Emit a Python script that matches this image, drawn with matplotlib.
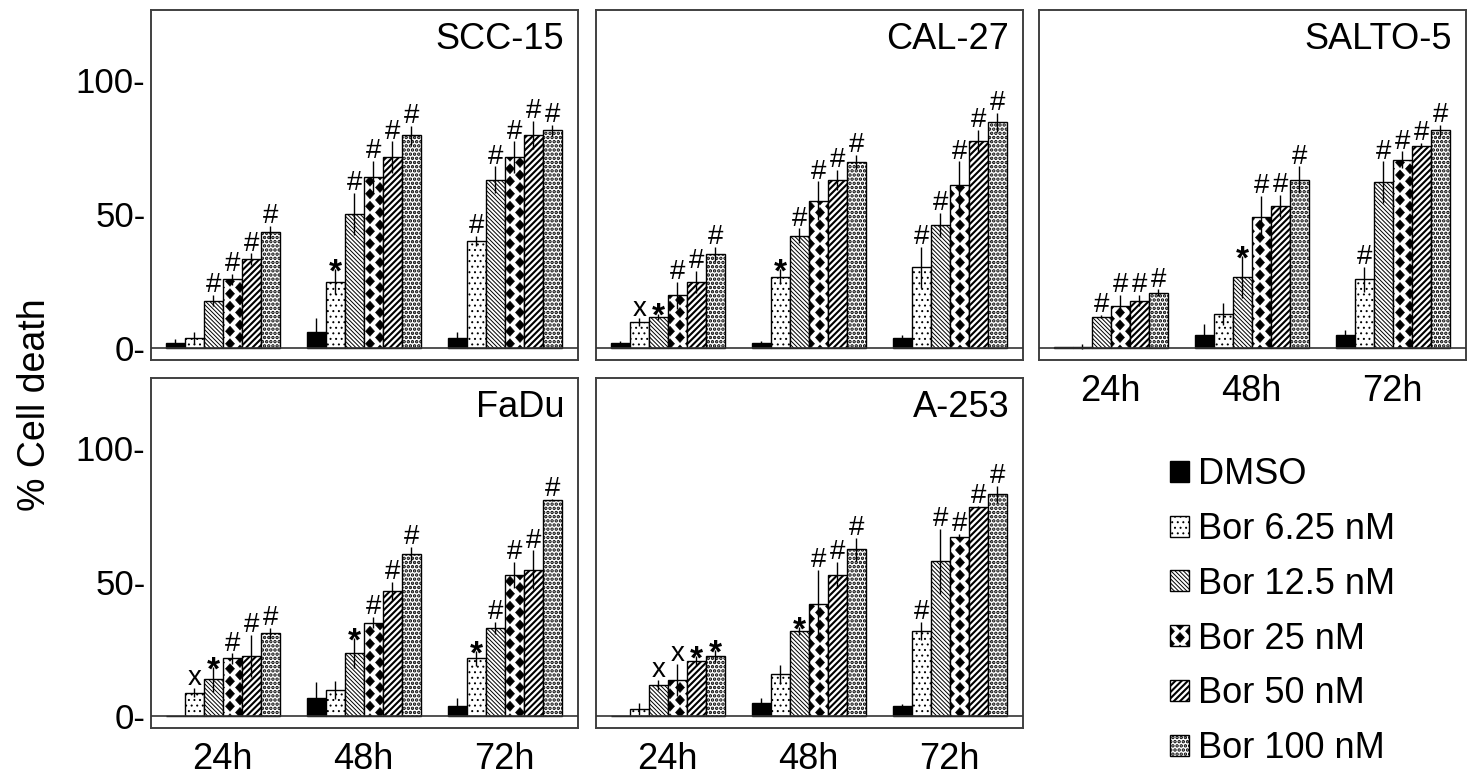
import numpy as np
import matplotlib
matplotlib.use('Agg')
import matplotlib.pyplot as plt
from matplotlib import hatch as mhatch
from matplotlib.path import Path
from matplotlib.patches import Patch

plt.rcParams['font.family'] = ['Liberation Sans', 'DejaVu Sans']

times = ['24h', '48h', '72h']
treatments = ['DMSO', 'Bor 6.25 nM', 'Bor 12.5 nM', 'Bor 25 nM', 'Bor 50 nM', 'Bor 100 nM']
panels = ['SCC-15', 'CAL-27', 'SALTO-5', 'FaDu', 'A-253']

# % cell death, one row per treatment, columns 24h/48h/72h
scc15_mean = [[2.1, 6.0, 4.0], [4.0, 24.9, 40.0], [17.8, 50.0, 62.8],
              [25.7, 63.7, 71.3], [33.2, 71.3, 79.4], [43.2, 79.4, 81.2]]
scc15_err = [[1.3, 5.2, 2.2], [2.2, 4.6, 1.9], [2.1, 7.8, 5.0],
             [2.2, 6.0, 5.8], [2.2, 5.8, 5.2], [2.5, 3.6, 2.1]]
scc15_sig = [['', '', ''], ['', '*', '#'], ['#', '#', '#'],
             ['#', '#', '#'], ['#', '#', '#'], ['#', '#', '#']]

cal27_mean = [[2.1, 2.1, 4.0], [9.7, 26.7, 30.2], [11.8, 42.0, 46.0],
              [19.8, 55.0, 60.9], [24.8, 62.8, 77.1], [35.2, 69.4, 84.2]]
cal27_err = [[0.8, 0.5, 1.0], [1.5, 2.7, 7.7], [1.2, 2.7, 4.4],
             [5.1, 7.2, 8.7], [4.2, 3.7, 4.4], [2.7, 2.7, 3.5]]
cal27_sig = [['', '', ''], ['x', '*', '#'], ['*', '#', '#'],
             ['#', '#', '#'], ['#', '#', '#'], ['#', '#', '#']]

salto5_mean = [[0.4, 5.0, 5.0], [0.7, 12.8, 25.7], [11.8, 26.7, 61.9],
               [15.9, 49.0, 70.3], [17.8, 53.1, 75.5], [20.8, 62.8, 81.2]]
salto5_err = [[0.2, 4.1, 1.9], [0.8, 4.0, 4.7], [0.6, 7.8, 7.7],
              [4.0, 7.8, 3.1], [2.1, 4.1, 1.0], [1.2, 5.0, 2.1]]
salto5_sig = [['', '', ''], ['', '', '#'], ['#', '*', '#'],
              ['#', '#', '#'], ['#', '#', '#'], ['#', '#', '#']]

fadu_mean = [[0.2, 6.8, 4.0], [8.9, 9.9, 21.6], [13.8, 23.5, 33.0],
             [21.6, 34.9, 52.6], [22.5, 46.7, 54.6], [30.9, 60.5, 80.6]]
fadu_err = [[0.1, 5.9, 2.8], [1.6, 3.3, 2.8], [4.7, 5.6, 2.2],
            [1.9, 2.1, 4.8], [7.8, 3.3, 7.2], [2.2, 2.7, 0.5]]
fadu_sig = [['', '', ''], ['x', '', '*'], ['*', '*', '#'],
            ['#', '#', '#'], ['#', '#', '#'], ['#', '#', '#']]

a253_mean = [[0.2, 4.9, 4.0], [2.8, 15.7, 31.9], [11.7, 31.9, 57.7],
             [13.7, 41.7, 66.9], [20.6, 52.6, 77.8], [22.6, 62.3, 82.7]]
a253_err = [[0.1, 1.9, 0.5], [2.1, 3.5, 3.3], [1.9, 1.5, 12.1],
            [6.0, 12.8, 1.0], [1.9, 4.8, 0.6], [2.3, 4.3, 3.1]]
a253_sig = [['', '', ''], ['', '', '#'], ['x', '*', '#'],
            ['x', '#', '#'], ['*', '#', '#'], ['*', '#', '#']]


#### custom hatches: thin "\" lines, wide "/" stripes, staggered diamonds
class BackLines(mhatch.HatchPatternBase):
    def __init__(self, hatch, density):
        self.n = hatch.count('\\') * 6
        self.num_vertices = 2 * (2 * self.n + 1) if self.n else 0

    def set_vertices_and_codes(self, vertices, codes):
        k = np.arange(-self.n, self.n + 1) / self.n
        vertices[0::2, 0] = k
        vertices[0::2, 1] = 1.0
        vertices[1::2, 0] = k + 1.0
        vertices[1::2, 1] = 0.0
        codes[0::2] = Path.MOVETO
        codes[1::2] = Path.LINETO


class WideSlash(mhatch.HatchPatternBase):
    def __init__(self, hatch, density):
        self.n = hatch.count('|') * 8
        self.num_vertices = 2 * (2 * self.n + 1) if self.n else 0

    def set_vertices_and_codes(self, vertices, codes):
        k = np.arange(-self.n, self.n + 1) / self.n
        vertices[0::2, 0] = k
        vertices[0::2, 1] = 0.0
        vertices[1::2, 0] = k + 1.0
        vertices[1::2, 1] = 1.0
        codes[0::2] = Path.MOVETO
        codes[1::2] = Path.LINETO


class Diamonds(mhatch.HatchPatternBase):
    def __init__(self, hatch, density):
        c = hatch.count('O')
        self.nx, self.ny = 5 * c, 8 * c
        self.centres = []
        if c:
            for j in range(2 * self.ny + 1):
                y = j / (2 * self.ny)
                if j % 2 == 0:
                    xs = np.arange(self.nx + 1) / self.nx
                else:
                    xs = (np.arange(self.nx) + 0.5) / self.nx
                self.centres += [(x, y) for x in xs]
        self.num_vertices = 5 * len(self.centres)

    def set_vertices_and_codes(self, vertices, codes):
        hw, hh = 0.045, 0.05
        shape = np.array([[0, hh], [hw, 0], [0, -hh], [-hw, 0], [0, hh]])
        for i, (x, y) in enumerate(self.centres):
            vertices[5 * i:5 * i + 5] = shape + [x, y]
            codes[5 * i:5 * i + 5] = [Path.MOVETO, Path.LINETO, Path.LINETO,
                                      Path.LINETO, Path.CLOSEPOLY]


mhatch._hatch_types = [mhatch.HorizontalHatch, WideSlash, mhatch.NorthEastHatch,
                       BackLines, mhatch.SmallCircles, Diamonds,
                       mhatch.SmallFilledCircles, mhatch.Stars]

faces = ['black', 'white', 'white', 'white', 'white', 'white']
hatches = [None, '...', '\\\\\\\\', 'O', '||', '....']
hatch_lw = [0.5, 0.7, 0.7, 0.4, 1.5, 1.7]


def set_hlw(patch, lw):
    if hasattr(patch, 'set_hatch_linewidth'):
        patch.set_hatch_linewidth(lw)


fig = plt.figure(figsize=(14.75, 7.75), dpi=100)
W, H = 1475, 775
boxes = [(151, 10), (596, 10), (1039, 10), (151, 378), (596, 378)]
data = [(scc15_mean, scc15_err, scc15_sig), (cal27_mean, cal27_err, cal27_sig),
        (salto5_mean, salto5_err, salto5_sig), (fadu_mean, fadu_err, fadu_sig),
        (a253_mean, a253_err, a253_sig)]

x = np.arange(len(times))
bw = 0.135
for k, (name, (px, py), (mean, err, sig)) in enumerate(zip(panels, boxes, data)):
    ax = fig.add_axes([px / W, 1 - (py + 350) / H, 427 / W, 350 / H])
    for i in range(len(treatments)):
        xs = x + (i - 2.5) * bw
        bars = ax.bar(xs, mean[i], bw, color=faces[i], edgecolor='black',
                      linewidth=1.0, hatch=hatches[i], zorder=2)
        for b in bars:
            set_hlw(b, hatch_lw[i])
        ax.errorbar(xs, mean[i], yerr=err[i], fmt='none', ecolor='black',
                    elinewidth=1.0, capsize=0, zorder=3)
        for xi, m, e, s in zip(xs, mean[i], err[i], sig[i]):
            if s == '*':
                ax.annotate(s, (xi, m + e), xytext=(0, -9), textcoords='offset points',
                            ha='center', va='baseline', fontsize=24, fontweight='bold')
            elif s:
                ax.annotate(s, (xi, m + e), xytext=(0, 2), textcoords='offset points',
                            ha='center', va='baseline', fontsize=20)
    ax.axhline(0, color='0.2', lw=1.2, zorder=4)
    ax.set_xlim(-0.51, 2.52)
    ax.set_ylim(-4.3, 126)
    ax.set_yticks([0, 50, 100])
    ax.set_xticks(x)
    if k in (0, 3):
        ax.set_yticklabels(['0-', '50-', '100-'], fontsize=25)
    else:
        ax.set_yticklabels([])
    if k in (2, 3, 4):
        ax.set_xticklabels(times, fontsize=26)
    else:
        ax.set_xticklabels([])
    ax.tick_params(length=0, pad=4)
    ax.tick_params(axis='x', pad=10)
    for sp in ax.spines.values():
        sp.set_linewidth(1.4)
        sp.set_color('0.25')
    ax.text(0.968, 0.965, name, transform=ax.transAxes, ha='right', va='top',
            fontsize=26)

fig.text(35 / W, 1 - 405 / H, '% Cell death', rotation=90, ha='center',
         va='center', fontsize=27)

handles = [Patch(facecolor=faces[i], edgecolor='black', linewidth=1.0,
                 hatch=hatches[i]) for i in range(len(treatments))]
leg = fig.legend(handles, treatments, loc='upper left',
                 bbox_to_anchor=(1170 / W, 1 - 457 / H), frameon=False,
                 fontsize=26, handlelength=0.52, handleheight=0.52,
                 handletextpad=0.25, labelspacing=0.55, borderpad=0,
                 borderaxespad=0)
for h, lw in zip(leg.legend_handles, hatch_lw):
    set_hlw(h, lw)

fig.savefig('out.png', dpi=100)
